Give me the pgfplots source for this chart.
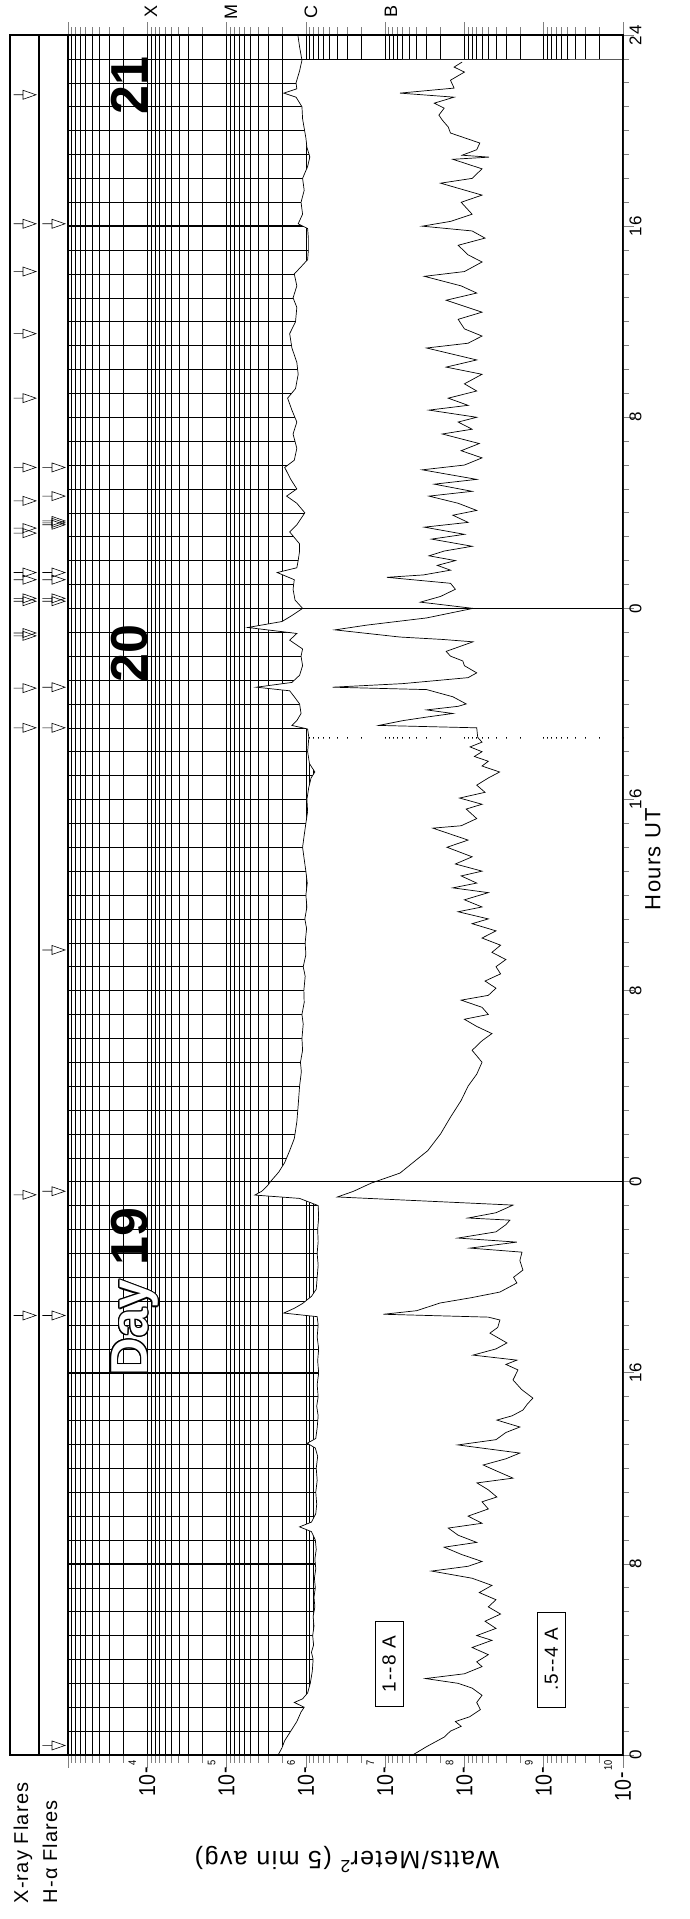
\documentclass[border=0pt]{standalone}
\usepackage{pgfplots}
\pgfplotsset{compat=1.18}
\usepackage{pgfplotstable}
\usepackage{fontspec}
\setmainfont{Liberation Sans}
\newfontfamily\lab{Liberation Sans}[LetterSpace=6]
\newfontfamily\labn{Liberation Sans}[FakeStretch=0.85]
\usepackage{contour}
\contourlength{1.1pt}

\newcommand{\dec}[1]{{\labn\fontsize{23}{23}\selectfont 10\kern1.5pt\raisebox{2.5pt}{-}\smash{\kern1pt\raisebox{19pt}{\fontsize{11}{11}\selectfont #1}}}}

\pgfdeclareplotmark{flare}{%
  \pgfpathmoveto{\pgfqpoint{-11pt}{0pt}}\pgfpathlineto{\pgfqpoint{-1.5pt}{0pt}}%
  \pgfpathmoveto{\pgfqpoint{-1.5pt}{4.5pt}}\pgfpathlineto{\pgfqpoint{11.5pt}{0pt}}%
  \pgfpathlineto{\pgfqpoint{-1.5pt}{-4.5pt}}\pgfpathclose
  \pgfusepathqstroke}

% 1-8 A channel: t (hours from day 19 0 UT), flux (W/m^2)
\pgfplotstableread{
t f
0.0 2.24e-6
0.3 2.0e-6
0.6 1.85e-6
1.0 1.55e-6
1.4 1.3e-6
1.8 1.15e-6
2.0 1.05e-6
2.2 1.4e-6
2.35 1.1e-6
2.6 9.5e-7
3.0 8.8e-7
3.5 8.3e-7
4.0 8.1e-7
4.3 8.5e-7
4.6 8.0e-7
5.0 8.2e-7
5.4 7.9e-7
5.8 8.1e-7
6.2 7.7e-7
6.6 7.9e-7
7.0 7.6e-7
7.4 7.8e-7
7.8 7.5e-7
8.2 7.7e-7
8.6 7.4e-7
9.0 7.6e-7
9.35 8.5e-7
9.55 1.2e-6
9.75 8.5e-7
10.1 7.5e-7
10.5 7.3e-7
11.0 7.5e-7
11.5 7.2e-7
12.0 7.4e-7
12.5 7.1e-7
12.85 7.6e-7
13.05 9.6e-7
13.25 7.5e-7
13.7 7.2e-7
14.2 7.0e-7
14.6 7.3e-7
15.0 7.0e-7
15.5 7.2e-7
16.0 6.9e-7
16.5 7.1e-7
17.0 6.9e-7
17.5 7.2e-7
18.0 7.0e-7
18.35 7.2e-7
18.5 1.9e-6
18.7 1.4e-6
18.9 1.1e-6
19.2 8.5e-7
19.5 7.4e-7
20.0 7.2e-7
20.5 7.0e-7
21.0 7.2e-7
21.5 7.0e-7
22.0 7.1e-7
22.5 6.9e-7
23.0 7.0e-7
23.3 1.2e-6
23.44 4.4e-6
23.6 3.6e-6
23.86 3.0e-6
24.0 2.8e-6
24.4 2.2e-6
24.8 1.85e-6
25.3 1.6e-6
25.8 1.4e-6
26.5 1.3e-6
27.2 1.25e-6
28.0 1.2e-6
28.6 1.14e-6
29.0 1.17e-6
29.5 1.1e-6
30.0 1.12e-6
30.6 1.08e-6
31.0 1.12e-6
31.5 1.05e-6
32.0 1.06e-6
32.6 1.02e-6
33.0 1.08e-6
33.5 1.0e-6
34.0 1.02e-6
34.6 9.8e-7
35.0 1.03e-6
35.5 9.7e-7
36.0 1.0e-6
36.5 9.6e-7
37.0 1.0e-6
37.5 1.05e-6
38.0 1.1e-6
38.5 1.05e-6
39.0 1.0e-6
39.5 9.5e-7
40.0 9.7e-7
40.5 9.2e-7
40.9 8.6e-7
41.15 7.7e-7
41.5 9.0e-7
42.0 9.5e-7
42.55 9.2e-7
42.62 9.2e-7
42.95 9.5e-7
43.1 1.5e-6
43.3 1.3e-6
43.6 1.15e-6
44.0 1.2e-6
44.3 1.4e-6
44.55 1.6e-6
44.7 4.2e-6
44.9 1.5e-6
45.2 1.2e-6
45.6 1.1e-6
46.0 1.15e-6
46.3 1.1e-6
46.67 1.6e-6
46.95 1.3e-6
47.2 5.4e-6
47.45 2.0e-6
47.7 1.5e-6
48.0 1.1e-6
48.35 1.37e-6
48.8 1.45e-6
49.2 1.4e-6
49.5 2.3e-6
49.7 1.3e-6
50.0 1.25e-6
50.4 1.2e-6
50.7 1.2e-6
51.2 1.6e-6
51.5 1.3e-6
52.0 1.03e-6
52.4 1.3e-6
52.7 1.75e-6
53.0 1.3e-6
53.4 1.55e-6
53.9 1.85e-6
54.2 1.4e-6
54.7 1.3e-6
55.3 1.45e-6
55.8 1.3e-6
56.3 1.5e-6
56.8 1.7e-6
57.2 1.35e-6
57.8 1.25e-6
58.3 1.3e-6
58.9 1.5e-6
59.5 1.6e-6
60.0 1.35e-6
60.6 1.3e-6
61.0 1.45e-6
61.5 1.3e-6
62.0 1.4e-6
62.3 1.15e-6
62.6 9.5e-7
63.0 9.3e-7
63.5 9.3e-7
63.9 9.5e-7
64.1 1.25e-6
64.5 1.1e-6
65.0 1.15e-6
65.5 1.05e-6
66.0 1.1e-6
66.5 9.5e-7
66.9 8.9e-7
67.3 9.7e-7
67.7 1.0e-6
68.1 1.05e-6
68.5 1.1e-6
69.0 1.12e-6
69.4 1.33e-6
69.57 1.9e-6
69.75 1.3e-6
70.0 1.33e-6
70.5 1.2e-6
70.95 1.12e-6
71.5 1.2e-6
72.0 1.26e-6
}\hard

% 0.5-4 A channel
\pgfplotstableread{
t f
0.0 4.5e-8
0.35 3.0e-8
0.75 1.8e-8
1.0 1.5e-8
1.2 1.1e-8
1.4 1.3e-8
1.6 8.6e-9
1.9 6.3e-9
2.2 7.0e-9
2.5 6.0e-9
2.8 8.0e-9
3.0 1.2e-8
3.2 3.1e-8
3.4 1.0e-8
3.7 6e-9
3.9 7e-9
4.2 5e-9
4.5 8e-9
4.8 4.5e-9
5.0 7e-9
5.3 4e-9
5.6 5.5e-9
5.9 3.5e-9
6.2 5e-9
6.5 4e-9
6.8 6.5e-9
7.1 4.5e-9
7.4 8e-9
7.7 2.6e-8
7.9 9e-9
8.1 6e-9
8.4 1.1e-8
8.7 1.8e-8
8.9 7e-9
9.2 1.2e-8
9.5 1.6e-8
9.7 6e-9
10.0 9e-9
10.3 5e-9
10.6 6e-9
10.8 3.9e-9
11.1 5e-9
11.39 6.95e-9
11.59 2.44e-9
11.9 4e-9
12.14 5.8e-9
12.4 3e-9
12.64 2.0e-9
12.98 1.21e-8
13.2 4e-9
13.5 3e-9
13.73 2.0e-9
14.02 3.9e-9
14.2 2.5e-9
14.44 1.83e-9
14.7 1.6e-9
14.94 1.37e-9
15.3 1.9e-9
15.70 2.44e-9
16.12 2.11e-9
16.35 3e-9
16.53 2.18e-9
16.74 7.8e-9
17.0 4e-9
17.25 2.91e-9
17.66 4.77e-9
17.9 3.8e-9
18.21 3.57e-9
18.33 5e-9
18.45 1.05e-7
18.6 4e-8
18.92 2.04e-8
19.15 8e-9
19.38 3.57e-9
19.76 2.18e-9
20.0 2.4e-9
20.30 1.83e-9
20.7 2.0e-9
21.05 1.88e-9
21.22 8.5e-9
21.47 2.18e-9
21.64 1.21e-8
21.9 4e-9
22.2 3e-9
22.39 2.67e-9
22.48 9.0e-9
22.7 4e-9
23.02 2.44e-9
23.36 4.0e-7
23.6 2.5e-7
23.94 1.5e-7
24.36 6.5e-8
25.3 2.9e-8
26.0 2.0e-8
26.7 1.5e-8
27.4 1.1e-8
28.0 9e-9
28.5 7e-9
29.0 6e-9
29.5 8e-9
29.9 6e-9
30.2 4.5e-9
30.5 7e-9
30.8 1.0e-8
31.0 5e-9
31.3 6e-9
31.6 1.1e-8
31.8 5e-9
32.1 4e-9
32.4 5.5e-9
32.7 3.5e-9
33.0 4e-9
33.3 3e-9
33.6 4.5e-9
33.9 3.5e-9
34.2 6e-9
34.5 4e-9
34.8 8e-9
35.0 5e-9
35.3 1.2e-8
35.5 6e-9
35.8 1.0e-8
36.1 5e-9
36.3 1.4e-8
36.5 7e-9
36.8 1.1e-8
37.0 6e-9
37.3 1.3e-8
37.6 8e-9
38.0 1.66e-8
38.3 9e-9
38.8 2.5e-8
38.9 1.1e-8
39.2 7e-9
39.6 9.5e-9
39.8 6e-9
40.06 1.15e-8
40.3 5.5e-9
40.6 7e-9
40.9 5e-9
41.15 3.6e-9
41.4 6e-9
41.6 5e-9
41.8 7.5e-9
42.0 6e-9
42.2 8.5e-9
42.4 6e-9
42.6 6.8e-9
43.0 7e-9
43.1 1.2e-7
43.3 6e-8
43.45 3e-8
43.6 1.4e-8
43.75 3e-8
43.9 1.2e-8
44.0 9.5e-9
44.3 1.4e-8
44.6 3e-8
44.7 4.6e-7
44.85 6e-8
45.1 9e-9
45.3 7e-9
45.6 1e-8
45.8 1.05e-8
46.0 1.5e-8
46.2 1.7e-8
46.6 7.8e-9
46.7 1.9e-8
46.8 6.5e-8
47.1 4.3e-7
47.3 1.7e-7
47.6 3e-8
48.0 7.8e-9
48.2 2.5e-8
48.26 3.6e-8
48.5 2.0e-8
48.8 1.3e-8
49.05 1.5e-8
49.3 9.5e-8
49.4 3.3e-8
49.6 1.5e-8
49.8 2.2e-8
50.0 1.3e-8
50.2 2.8e-8
50.4 1.8e-8
50.6 8e-9
50.9 2.6e-8
51.1 1.0e-8
51.4 3.2e-8
51.6 9e-9
51.9 1.4e-8
52.1 7e-9
52.4 1.2e-8
52.7 2.8e-8
52.9 8e-9
53.2 2.4e-8
53.4 7e-9
53.8 3.4e-8
54.0 1.0e-8
54.3 6e-9
54.6 1.1e-8
54.9 6.5e-9
55.3 1.9e-8
55.5 8e-9
55.8 1.2e-8
56.0 7e-9
56.3 2.8e-8
56.5 9e-9
56.8 1.6e-8
57.1 7e-9
57.4 1.0e-8
57.8 6e-9
58.1 1.7e-8
58.4 7e-9
58.9 3.0e-8
59.1 9e-9
59.4 6e-9
59.7 1.0e-8
60.1 1.2e-8
60.4 6e-9
60.9 1.7e-8
61.2 7e-9
61.5 1.1e-8
61.9 3.2e-8
62.1 1.0e-8
62.5 6e-9
62.8 9e-9
63.2 1.2e-8
63.5 5.5e-9
63.8 8e-9
64.0 3.4e-8
64.2 1.5e-8
64.5 8e-9
65.0 1.1e-8
65.3 6e-9
65.8 2.0e-8
66.0 8e-9
66.4 6e-9
66.8 1.4e-8
66.89 4.9e-9
66.97 1.07e-8
67.2 7e-9
67.48 6.4e-9
67.9 1.5e-8
68.15 1.6e-8
68.44 1.9e-8
68.65 2.1e-8
68.94 1.8e-8
69.15 2.4e-8
69.40 1.35e-8
69.57 6.5e-8
69.78 1.35e-8
70.11 1.5e-8
70.45 1.0e-8
70.66 1.35e-8
70.87 1.07e-8
}\soft

\begin{document}
\begin{tikzpicture}[x=1pt,y=1pt]
\useasboundingbox (0,0) rectangle (689,1919);

% flare event panel
\begin{axis}[
  at={(10pt,164pt)}, anchor=south west,
  scale only axis, width=58pt, height=1720pt,
  xmin=0, xmax=2, ymin=0, ymax=72,
  xtick=\empty, ytick=\empty,
  axis line style={line width=1.6pt},
  clip=false]
\addplot[line width=1.6pt] coordinates {(1,0) (1,72)};
% X-ray flares
\addplot[only marks, mark=flare, line width=0.6pt] coordinates {
(0.5,18.4) (0.5,23.45) (0.5,43.0) (0.5,44.66) (0.5,46.85) (0.5,46.97)
(0.5,48.3) (0.5,48.42) (0.5,49.2) (0.5,49.5) (0.5,51.15) (0.5,51.36)
(0.5,52.5) (0.5,53.9) (0.5,56.8) (0.5,59.5) (0.5,62.1) (0.5,64.1) (0.5,69.5)};
% H-alpha flares
\addplot[only marks, mark=flare, line width=0.6pt] coordinates {
(1.5,0.4) (1.5,18.4) (1.5,23.6) (1.5,33.7) (1.5,43.0) (1.5,44.7)
(1.5,48.3) (1.5,48.42) (1.5,49.2) (1.5,49.5) (1.5,51.5) (1.5,51.58) (1.5,51.66)
(1.5,52.7) (1.5,53.9) (1.5,64.1)};
\end{axis}

% main flux axis
\begin{axis}[
  at={(68pt,164pt)}, anchor=south west,
  scale only axis, width=555pt, height=1720pt,
  xmode=log, x dir=reverse,
  xmin=1e-10, xmax=1e-3, ymin=0, ymax=72,
  xtick={1e-10,1e-9,1e-8,1e-7,1e-6,1e-5,1e-4,1e-3},
  xticklabels={\dec{10},\dec{9},\dec{8},\dec{7},\dec{6},\dec{5},\dec{4},{}},
  minor xtick={2e-10,3e-10,4e-10,5e-10,6e-10,7e-10,8e-10,9e-10,
    2e-9,3e-9,4e-9,5e-9,6e-9,7e-9,8e-9,9e-9,
    2e-8,3e-8,4e-8,5e-8,6e-8,7e-8,8e-8,9e-8,
    2e-7,3e-7,4e-7,5e-7,6e-7,7e-7,8e-7,9e-7,
    2e-6,3e-6,4e-6,5e-6,6e-6,7e-6,8e-6,9e-6,
    2e-5,3e-5,4e-5,5e-5,6e-5,7e-5,8e-5,9e-5,
    2e-4,3e-4,4e-4,5e-4,6e-4,7e-4,8e-4,9e-4},
  ytick={0,8,...,72},
  yticklabels={0,8,16,0,8,16,0,8,16,24},
  minor y tick num=7,
  tick align=outside,
  xticklabel pos=lower,
  ytick pos=right, yticklabel pos=right,
  xtick style={line width=0.7pt,/pgfplots/major tick length=13pt,/pgfplots/minor tick length=8pt},
  ytick style={line width=0.7pt,/pgfplots/major tick length=11pt,/pgfplots/minor tick length=6pt},
  xticklabel style={rotate=90, anchor=east, inner sep=1pt},
  yticklabel style={rotate=90, anchor=north, font=\lab\fontsize{17}{17}\selectfont, inner sep=2pt},
  xmajorgrids, xminorgrids, ymajorgrids, yminorgrids,
  grid style={line width=0.5pt, black},
  minor grid style={line width=0.5pt, black},
  axis line style={line width=1.6pt},
  clip=true]
% thick 8h / 16h lines (under the fill)
\foreach \h in {8,16,32,40,56,64} {
  \edef\tmp{\noexpand\addplot[line width=1.5pt, forget plot] coordinates {(1e-10,\h) (1e-3,\h)};}\tmp
}
% white area below the 1-8 A curve (hides grid)
\addplot[draw=none, fill=white, restrict y to domain=0:42.55] table[x=f,y=t]{\hard}
  -- (axis cs:1e-10,42.55) -- (axis cs:1e-10,0) -- cycle;
\addplot[draw=none, fill=white, restrict y to domain=42.62:70.97] table[x=f,y=t]{\hard}
  -- (axis cs:1e-10,70.97) -- (axis cs:1e-10,42.62) -- cycle;
% day boundaries
\addplot[line width=1.6pt] coordinates {(1e-10,24) (1e-3,24)};
\addplot[line width=1.6pt] coordinates {(1e-10,48) (1e-3,48)};
% curves
\addplot[line width=0.7pt, black] table[x=f,y=t]{\hard};
\addplot[line width=0.7pt, black] table[x=f,y=t]{\soft};
% day labels
\node[rotate=90, anchor=base, font=\bfseries\fontsize{52}{52}\selectfont] at (axis cs:1e-4,69.9) {21};
\node[rotate=90, anchor=base, font=\bfseries\fontsize{52}{52}\selectfont] at (axis cs:1e-4,46.1) {20};
\node[rotate=90, anchor=base, font=\bfseries\fontsize{52}{52}\selectfont] at (axis cs:1e-4,19.4) {{\color{white}\contour{black}{Day}} 19};
% channel labels
\node[rotate=90, draw, line width=0.6pt, fill=white, minimum width=85pt, minimum height=28pt, font=\lab\fontsize{19}{19}\selectfont] at (axis cs:8.9e-8,3.8) {1--8 A};
\node[rotate=90, draw, line width=0.6pt, fill=white, minimum width=95pt, minimum height=28pt, font=\lab\fontsize{19}{19}\selectfont] at (axis cs:8.0e-10,4.0) {.5--4 A};
\draw[line width=1.6pt] (rel axis cs:0,0) rectangle (rel axis cs:1,1);
\end{axis}

% class letters above the top edge
\begin{scope}[font=\lab\fontsize{18}{18}\selectfont]
\node[rotate=90] at (151,1907) {X};
\node[rotate=90] at (231,1907) {M};
\node[rotate=90] at (311,1907) {C};
\node[rotate=90] at (391,1907) {B};
\end{scope}

\node[rotate=90, font=\lab\fontsize{22}{22}\selectfont] at (653,1060) {Hours UT};
\node[rotate=180, font=\lab\fontsize{25}{25}\selectfont] at (347,59) {Watts/Meter\textsuperscript{2} (5 min avg)};
\node[rotate=90, anchor=base west, font=\lab\fontsize{20}{20}\selectfont] at (28,12) {X-ray Flares};
\node[rotate=90, anchor=base west, font=\lab\fontsize{20}{20}\selectfont] at (57,12) {H-α Flares};
\end{tikzpicture}
\end{document}
